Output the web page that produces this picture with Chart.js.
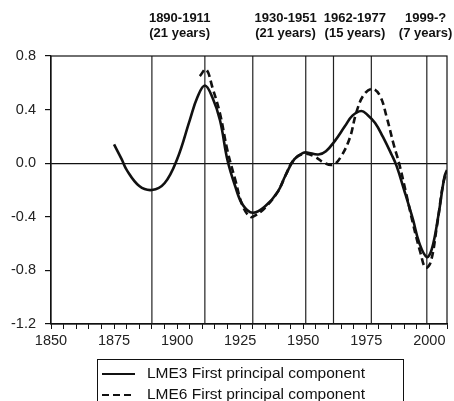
<!DOCTYPE html>
<html>
<head>
<meta charset="utf-8">
<script src="https://cdn.jsdelivr.net/npm/chart.js@4.4.1/dist/chart.umd.min.js"></script>
<style>
  html, body { margin: 0; padding: 0; background: #fff; }
  #wrap { width: 454px; height: 401px; }
</style>
</head>
<body>
<div id="wrap"><canvas id="chart" width="454" height="401"></canvas></div>
<script>
// LME3 first principal component (solid)
var lme3Years  = [1875, 1878, 1880, 1885, 1890, 1895, 1900, 1905, 1908, 1911, 1914, 1917, 1920, 1923, 1926, 1930, 1935, 1940, 1943, 1946.5, 1950, 1951.5, 1956, 1959, 1962.5, 1966.5, 1969.5, 1973, 1975.5, 1978.5, 1981.5, 1985, 1987, 1990, 1993.5, 1996, 1999, 2001, 2003.5, 2006, 2007];
var lme3Values = [0.14, 0.03, -0.05, -0.17, -0.20, -0.15, 0.03, 0.32, 0.49, 0.58, 0.49, 0.32, 0.02, -0.17, -0.31, -0.37, -0.32, -0.21, -0.09, 0.03, 0.077, 0.08, 0.065, 0.09, 0.165, 0.275, 0.355, 0.39, 0.36, 0.30, 0.20, 0.065, -0.02, -0.20, -0.42, -0.595, -0.70, -0.64, -0.40, -0.10, -0.05];

// LME6 first principal component (dashed)
var lme6Years  = [1909, 1911.5, 1914, 1917, 1920, 1923, 1926, 1929, 1931, 1935, 1940, 1943, 1946.5, 1950.5, 1954.5, 1958.5, 1962, 1965, 1968.5, 1971, 1974, 1977.5, 1980.5, 1983, 1986, 1988, 1990.5, 1993.5, 1996.5, 1998.5, 2000.5, 2003, 2005.5, 2007];
var lme6Values = [0.65, 0.70, 0.565, 0.37, 0.09, -0.12, -0.32, -0.40, -0.39, -0.33, -0.21, -0.09, 0.03, 0.07, 0.05, 0.0, -0.01, 0.05, 0.19, 0.375, 0.51, 0.555, 0.50, 0.35, 0.13, 0.0, -0.20, -0.45, -0.67, -0.78, -0.74, -0.47, -0.15, -0.06];

// regime shift years (vertical lines)
var periodYears = [1890, 1911, 1930, 1951, 1962, 1977, 1999];

// labels above the plot
var periodLabels = [["1890-1911", "(21 years)"], ["1930-1951", "(21 years)"], ["1962-1977", "(15 years)"], ["1999-?", "(7 years)"]];
var periodLabelYears = [1901, 1943, 1970.5, 1998.5];

var yTicks = [-1.2, -0.8, -0.4, 0.0, 0.4, 0.8];

function pairs(xs, ys) {
    var out = [];
    for (var i = 0; i < xs.length; i++) out.push({x: xs[i], y: ys[i]});
    return out;
}

var datasets = [
    {
        label: "LME3 First principal component",
        data: pairs(lme3Years, lme3Values),
        borderColor: "#111",
        borderWidth: 2.6,
        pointRadius: 0,
        tension: 0.4,
        order: 1
    },
    {
        label: "LME6 First principal component",
        data: pairs(lme6Years, lme6Values),
        borderColor: "#111",
        borderWidth: 2.6,
        borderDash: [7, 4],
        pointRadius: 0,
        tension: 0.4,
        order: 2
    }
];

periodYears.forEach(function(yr) {
    datasets.push({
        label: "",
        data: [{x: yr, y: yTicks[0]}, {x: yr, y: yTicks[yTicks.length - 1]}],
        borderColor: "#222",
        borderWidth: 1.2,
        pointRadius: 0,
        order: 5
    });
});

// frame, period labels and legend
var extras = {
    id: "extras",
    afterDraw: function(chart) {
        var ctx = chart.ctx, a = chart.chartArea, xs = chart.scales.x;
        ctx.save();
        ctx.strokeStyle = "#111";
        ctx.lineWidth = 1.2;
        ctx.strokeRect(a.left, a.top, a.right - a.left, a.bottom - a.top);

        ctx.fillStyle = "#111";
        ctx.font = "bold 13px 'Liberation Sans', Arial, sans-serif";
        ctx.textAlign = "center";
        ctx.textBaseline = "middle";
        periodLabels.forEach(function(lines, i) {
            var px = xs.getPixelForValue(periodLabelYears[i]);
            ctx.fillText(lines[0], px, 18);
            ctx.fillText(lines[1], px, 33);
        });

        // legend box
        ctx.lineWidth = 1;
        ctx.strokeRect(97.5, 359.5, 306, 60);
        ctx.font = "15.5px 'Liberation Sans', Arial, sans-serif";
        ctx.textAlign = "left";
        [0, 1].forEach(function(i) {
            var ds = chart.data.datasets[i];
            var ly = 374 + i * 21;
            ctx.beginPath();
            ctx.setLineDash(ds.borderDash || []);
            ctx.lineWidth = 2;
            ctx.moveTo(102, ly);
            ctx.lineTo(135, ly);
            ctx.stroke();
            ctx.setLineDash([]);
            ctx.fillText(ds.label, 147, ly);
        });
        ctx.restore();
    }
};

var ctx = document.getElementById("chart").getContext("2d");
var chart = new Chart(ctx, {
    type: "line",
    data: { datasets: datasets },
    options: {
        responsive: false,
        animation: false,
        layout: { padding: { top: 56, right: 7, left: 0, bottom: 51 } },
        plugins: {
            legend: { display: false },
            tooltip: { enabled: false }
        },
        scales: {
            x: {
                type: "linear",
                min: 1850,
                max: 2007,
                afterFit: function(s) { s.height = 26; },
                border: { display: true, color: "#111", width: 1.2 },
                grid: { drawOnChartArea: false, tickLength: 5, tickColor: "#111" },
                ticks: {
                    stepSize: 5,
                    autoSkip: false,
                    maxRotation: 0,
                    padding: 3,
                    color: "#222",
                    font: { family: "'Liberation Sans', Arial, sans-serif", size: 14.5 },
                    callback: function(v) { return v % 25 === 0 ? String(v) : ""; }
                }
            },
            y: {
                min: yTicks[0],
                max: yTicks[yTicks.length - 1],
                afterFit: function(s) { s.width = 51; },
                afterBuildTicks: function(s) { s.ticks = yTicks.map(function(v) { return {value: v}; }); },
                border: { display: true, color: "#111", width: 1.2 },
                grid: {
                    tickLength: 6,
                    tickColor: "#111",
                    lineWidth: 1.2,
                    color: function(c) { return (c.tick && Math.abs(c.tick.value) < 1e-9) ? "#111" : "rgba(0,0,0,0)"; }
                },
                ticks: {
                    padding: 9,
                    color: "#222",
                    font: { family: "'Liberation Sans', Arial, sans-serif", size: 14.5 },
                    callback: function(v) { return Math.abs(v) < 1e-9 ? "0.0" : Number(v).toFixed(1); }
                }
            }
        }
    },
    plugins: [extras]
});
</script>
</body>
</html>
